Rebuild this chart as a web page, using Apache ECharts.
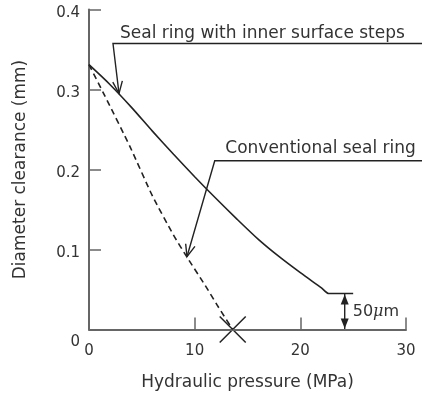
<!DOCTYPE html>
<html><head><meta charset="utf-8">
<script src="https://cdn.jsdelivr.net/npm/echarts@6/dist/echarts.min.js"></script>
<style>html,body{margin:0;padding:0;background:#fff}#c{width:422px;height:399px}</style>
</head><body><div id="c"></div>
<script>
// ---- data ----
const xAxisTitle = 'Hydraulic pressure (MPa)';
const yAxisTitle = 'Diameter clearance (mm)';
const xTickLabels = ['0', '10', '20', '30'];
const yTickLabels = ['0', '0.1', '0.2', '0.3', '0.4'];
const steppedPressure = [0, 2, 4, 6, 8, 10, 12, 14, 16, 18, 20, 22, 22.7, 25];
const steppedClearance = [0.331, 0.306, 0.278, 0.248, 0.219, 0.191, 0.164, 0.138, 0.113, 0.091, 0.071, 0.052, 0.045, 0.045];
const convPressure = [0, 1.5, 3.9, 6, 8, 9.2, 11, 12.2, 13.6];
const convClearance = [0.331, 0.292, 0.228, 0.167, 0.118, 0.092, 0.055, 0.029, 0];
const steppedName = 'Seal ring with inner surface steps';
const convName = 'Conventional seal ring';
const gapLabelNum = '50';
const gapLabelUnit = 'μ';
const gapLabelUnit2 = 'm';
const failurePressure = 13.6;      // X marker on the conventional ring
const residualGap = 0.045;         // level of the flat part
const residualAt = 24.2;           // pressure where the 50 µm arrow is drawn

// ---- annotation anchors in data coordinates ----
const steppedCallout = { elbow: [2.27, 0.3575], tip: [2.84, 0.295], textAt: [2.93, 0.3705] };
const convCallout = { elbow: [11.9, 0.211], tip: [9.27, 0.091], textAt: [12.9, 0.226] };

const FONT = 'DejaVu Sans';
const TXT = '#333';
const LINE = '#222';
const AXIS = '#666';

const chart = echarts.init(document.getElementById('c'), null, { renderer: 'canvas' });

function zip(a, b) { return a.map((v, i) => [v, b[i]]); }

chart.setOption({
  animation: false,
  backgroundColor: '#fff',
  grid: { left: 89, right: 16, top: 9.5, bottom: 69.5, containLabel: false },
  xAxis: {
    type: 'value', min: 0, max: 30, interval: 10,
    name: xAxisTitle, nameLocation: 'middle', nameGap: 45,
    nameTextStyle: { fontFamily: FONT, fontSize: 17, color: TXT },
    axisLine: { lineStyle: { color: AXIS, width: 2 } },
    axisTick: { inside: true, length: 12, lineStyle: { color: AXIS, width: 1.5 } },
    splitLine: { show: false },
    axisLabel: {
      margin: 14, fontFamily: FONT, fontSize: 15, color: TXT,
      formatter: v => xTickLabels[Math.round(v / 10)]
    }
  },
  yAxis: {
    type: 'value', min: 0, max: 0.4, interval: 0.1,
    name: yAxisTitle, nameLocation: 'middle', nameGap: 60,
    nameTextStyle: { fontFamily: FONT, fontSize: 17, color: TXT },
    axisLine: { lineStyle: { color: AXIS, width: 2 } },
    axisTick: { inside: true, length: 12, lineStyle: { color: AXIS, width: 1.5 } },
    splitLine: { show: false },
    axisLabel: {
      margin: 9, fontFamily: FONT, fontSize: 15, color: TXT,
      formatter: v => {
        const i = Math.round(v / 0.1);
        return i === 0 ? '{z|' + yTickLabels[0] + '}' : '{n|' + yTickLabels[i] + '}';
      },
      rich: {
        z: { fontFamily: FONT, fontSize: 15, color: TXT, padding: [26, 0, 0, 0] },
        n: { fontFamily: FONT, fontSize: 15, color: TXT, padding: [8, 0, 0, 0] }
      }
    }
  },
  series: [
    {
      name: steppedName, type: 'line', data: zip(steppedPressure, steppedClearance),
      smooth: 0.25, symbol: 'none', lineStyle: { color: LINE, width: 1.6 }
    },
    {
      name: convName, type: 'line', data: zip(convPressure, convClearance),
      smooth: 0.2, symbol: 'none', lineStyle: { color: LINE, width: 1.6, type: [6, 4] }
    }
  ]
});

function px(p) { return chart.convertToPixel({ gridIndex: 0 }, p); }

function openHead(from, tip, len, ang) {
  const dx = from[0] - tip[0], dy = from[1] - tip[1];
  const d = Math.hypot(dx, dy), ux = dx / d, uy = dy / d;
  const rot = (a) => [tip[0] + len * (ux * Math.cos(a) - uy * Math.sin(a)),
                      tip[1] + len * (ux * Math.sin(a) + uy * Math.cos(a))];
  return [rot(ang), tip, rot(-ang)];
}

const W = chart.getWidth();
const g = [];
function callout(c, label) {
  const e = px(c.elbow), t = px(c.tip), tx = px(c.textAt);
  g.push({ type: 'polyline', shape: { points: [[W, e[1]], e, t] }, style: { stroke: LINE, lineWidth: 1.4, fill: null } });
  g.push({ type: 'polyline', shape: { points: openHead(e, t, 13, 0.38) }, style: { stroke: LINE, lineWidth: 1.4, fill: null } });
  g.push({ type: 'text', style: { text: label, x: tx[0], y: tx[1], fontFamily: FONT, fontSize: 17, fill: TXT, align: 'left', verticalAlign: 'middle' } });
}
callout(steppedCallout, steppedName);
callout(convCallout, convName);

// failure cross
const fx = px([failurePressure, 0]);
const s = 13;
g.push({ type: 'line', shape: { x1: fx[0] - s, y1: fx[1] - s, x2: fx[0] + s, y2: fx[1] + s }, style: { stroke: LINE, lineWidth: 1.5 } });
g.push({ type: 'line', shape: { x1: fx[0] - s, y1: fx[1] + s, x2: fx[0] + s, y2: fx[1] - s }, style: { stroke: LINE, lineWidth: 1.5 } });

// 50 µm dimension arrow
const pTop = px([residualAt, residualGap]), pBot = px([residualAt, 0]);
g.push({ type: 'line', shape: { x1: pTop[0], y1: pTop[1], x2: pBot[0], y2: pBot[1] }, style: { stroke: LINE, lineWidth: 1.4 } });
g.push({ type: 'polygon', shape: { points: [[pTop[0], pTop[1] + 1], [pTop[0] - 4, pTop[1] + 11], [pTop[0] + 4, pTop[1] + 11]] }, style: { fill: LINE } });
g.push({ type: 'polygon', shape: { points: [[pBot[0], pBot[1] - 1], [pBot[0] - 4, pBot[1] - 11], [pBot[0] + 4, pBot[1] - 11]] }, style: { fill: LINE } });
g.push({
  type: 'text',
  style: {
    text: '{a|' + gapLabelNum + '}{b|' + gapLabelUnit + '}{a|' + gapLabelUnit2 + '}',
    x: pTop[0] + 8, y: (pTop[1] + pBot[1]) / 2,
    align: 'left', verticalAlign: 'middle',
    rich: {
      a: { fontFamily: FONT, fontSize: 16, fill: TXT },
      b: { fontFamily: 'DejaVu Serif', fontStyle: 'italic', fontSize: 16, fill: TXT }
    }
  }
});

chart.setOption({ graphic: g });
</script>
</body></html>
